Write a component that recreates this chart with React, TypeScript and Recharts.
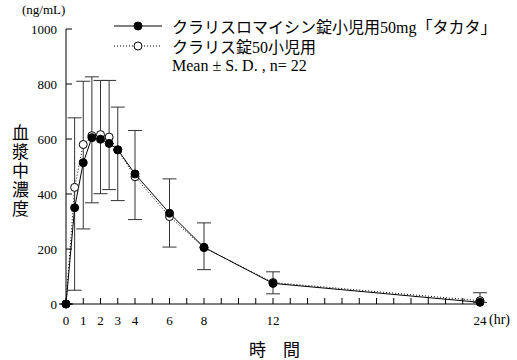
import React from 'react';
import {
    LineChart,
    Line,
    XAxis,
    YAxis,
    ErrorBar
} from 'recharts';

// sampling times (hr)
const hours = [0, 0.5, 1, 1.5, 2, 2.5, 3, 4, 6, 8, 12, 24];
// クラリスロマイシン錠小児用50mg「タカタ」 mean (ng/mL)
const takataMean = [0, 350, 514, 605, 599, 584, 561, 473, 330, 206, 75, 6];
// クラリス錠50小児用 mean (ng/mL)
const clarisMean = [0, 424, 580, 612, 616, 607, 560, 463, 318, 205, 78, 12];
// S.D. as drawn (below / above the mean)
const sdLow = [0, 300, 241, 237, 198, 168, 185, 166, 123, 81, 38, 0];
const sdHigh = [0, 327, 296, 221, 214, 229, 155, 158, 125, 89, 42, 35];

const xTicks = Array.from({ length: 25 }, (_, i) => i);
const xTickLabels = [0, 1, 2, 3, 4, 6, 8, 12, 24];
const yTicks = [0, 200, 400, 600, 800, 1000];

const legendItems = [
    { name: 'クラリスロマイシン錠小児用50mg「タカタ」', filled: true },
    { name: 'クラリス錠50小児用', filled: false }
];

const FONT = '"Liberation Serif", "Noto Sans CJK JP", serif';

const chartData = hours.map((h, i) => ({
    hour: h,
    takata: takataMean[i],
    claris: clarisMean[i],
    sd: [sdLow[i], sdHigh[i]]
}));

const ChartLegend = () => (
    <div style={{ position: 'absolute', left: 114, top: 16, fontFamily: FONT, color: '#000' }}>
        {legendItems.map((item) => (
            <div key={item.name} style={{ display: 'flex', alignItems: 'center', height: 20 }}>
                <svg width={48} height={12} style={{ marginRight: 10 }}>
                    <line
                        x1={0} y1={6} x2={48} y2={6}
                        stroke="#000" strokeWidth={1}
                        strokeDasharray={item.filled ? undefined : '1 2'}
                    />
                    <circle cx={24} cy={6} r={4} fill={item.filled ? '#000' : '#fff'} stroke="#000" strokeWidth={1} />
                </svg>
                <span style={{ fontSize: 16, whiteSpace: 'nowrap' }}>{item.name}</span>
            </div>
        ))}
        <div style={{ height: 20, lineHeight: '20px', fontSize: 16, paddingLeft: 58 }}>Mean ± S. D. , n= 22</div>
    </div>
);

const App: React.FC = () => {
    return (
        <div style={{ position: 'absolute', left: 0, top: 0, width: 517, height: 360, background: '#fff', fontFamily: FONT }}>
            <LineChart
                width={517}
                height={360}
                data={chartData}
                margin={{ top: 29, right: 37, left: 6, bottom: 26 }}
            >
                <XAxis
                    dataKey="hour"
                    type="number"
                    domain={[0, 24]}
                    ticks={xTicks}
                    interval={0}
                    tickFormatter={(v: number) => (xTickLabels.includes(v) ? String(v) : '')}
                    tickSize={-6}
                    tickMargin={18}
                    height={30}
                    stroke="#000"
                    tick={{ fill: '#000', fontSize: 13, fontFamily: FONT }}
                />
                <YAxis
                    type="number"
                    domain={[0, 1000]}
                    ticks={yTicks}
                    interval={0}
                    tickSize={-6}
                    tickMargin={15}
                    width={60}
                    stroke="#000"
                    tick={{ fill: '#000', fontSize: 13, fontFamily: FONT }}
                />
                <Line
                    type="linear"
                    dataKey="claris"
                    stroke="#000"
                    strokeWidth={1}
                    strokeDasharray="1 2"
                    dot={{ r: 4, fill: '#fff', stroke: '#000', strokeWidth: 1, strokeDasharray: '' }}
                    isAnimationActive={false}
                />
                <Line
                    type="linear"
                    dataKey="takata"
                    stroke="#000"
                    strokeWidth={1}
                    dot={{ r: 4, fill: '#000', stroke: '#000', strokeWidth: 1 }}
                    isAnimationActive={false}
                >
                    <ErrorBar dataKey="sd" width={7} stroke="#333" strokeWidth={1} direction="y" isAnimationActive={false} />
                </Line>
            </LineChart>

            <ChartLegend />
            <div style={{ position: 'absolute', left: 22, top: 2, fontSize: 13 }}>(ng/mL)</div>
            <div style={{ position: 'absolute', left: 489, top: 312, fontSize: 14 }}>(hr)</div>
            <div
                style={{
                    position: 'absolute',
                    left: 8,
                    top: 124,
                    writingMode: 'vertical-rl',
                    fontSize: 17,
                    letterSpacing: 2,
                    lineHeight: '20px'
                }}
            >
                血漿中濃度
            </div>
            <div style={{ position: 'absolute', left: 249, top: 336, fontSize: 17 }}>時　間</div>
        </div>
    );
};

export default App;
